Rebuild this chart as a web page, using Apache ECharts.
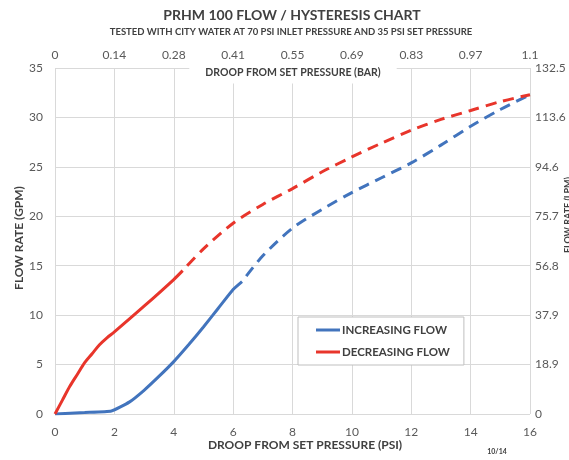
<!DOCTYPE html>
<html>
<head>
<meta charset="utf-8">
<script src="https://cdn.jsdelivr.net/npm/echarts@6/dist/echarts.min.js"></script>
<style>
html,body{margin:0;padding:0;background:#fff;}
#c{width:569px;height:460px;}
</style>
</head>
<body>
<div id="c"></div>
<script>
// ---- data ----
const BAR_LABELS = ['0', '0.14', '0.28', '0.41', '0.55', '0.69', '0.83', '0.97', '1.1'];
const LPM_LABELS = ['0', '18.9', '37.9', '56.8', '75.7', '94.6', '113.6', '132.5'];

const INC_SOLID_X = [0, 1, 1.9, 2.5, 3, 3.5, 4, 4.5, 5, 5.5, 6, 6.3];
const INC_SOLID_Y = [0, 0.15, 0.3, 1.2, 2.4, 3.8, 5.3, 7.0, 8.8, 10.7, 12.6, 13.4];
const INC_DASH_X = [6.3, 7, 8, 9, 10, 11, 12, 13, 14, 15, 16];
const INC_DASH_Y = [13.4, 16.0, 18.8, 20.7, 22.4, 23.9, 25.4, 27.2, 29.1, 30.8, 32.3];

const DEC_SOLID_X = [0, 0.25, 0.5, 0.75, 1, 1.25, 1.5, 1.75, 2, 3, 4, 4.3];
const DEC_SOLID_Y = [0, 1.4, 2.8, 4.0, 5.2, 6.1, 7.0, 7.7, 8.3, 10.9, 13.6, 14.5];
const DEC_DASH_X = [4.3, 5, 6, 7, 8, 9, 10, 11, 12, 13, 14, 15, 16];
const DEC_DASH_Y = [14.5, 16.7, 19.3, 21.2, 22.8, 24.5, 26.0, 27.4, 28.7, 29.8, 30.7, 31.6, 32.3];

const NAME_INC = 'INCREASING FLOW';
const NAME_DEC = 'DECREASING FLOW';

const pairs = (xs, ys) => xs.map((x, i) => [x, ys[i]]);

const BLUE = '#4274bd';
const RED = '#e8352b';
const GRID = '#d9d9d9';
const LABEL = '#595959';
const DARK = '#404040';
const FONT = 'Lato, "Open Sans", sans-serif';

const chart = echarts.init(document.getElementById('c'));
chart.setOption({
  animation: false,
  backgroundColor: '#fff',
  textStyle: { fontFamily: FONT },
  grid: { left: 55, right: 39, top: 68, bottom: 46 },
  legend: {
    data: [NAME_INC, NAME_DEC],
    orient: 'vertical',
    left: 298, top: 317,
    icon: 'rect',
    itemWidth: 24, itemHeight: 3, itemGap: 10,
    padding: [7, 14, 7, 18],
    borderColor: '#bfbfbf', borderWidth: 1,
    backgroundColor: '#fff',
    textStyle: { fontFamily: FONT, fontSize: 11.5, fontWeight: 'bold', color: DARK, padding: [0, 0, 0, -3] }
  },
  xAxis: [
    {
      type: 'value', position: 'bottom', min: 0, max: 16, interval: 2,
      axisLine: { show: false }, axisTick: { show: false },
      axisLabel: { margin: 12, fontSize: 12, color: LABEL, fontFamily: FONT },
      splitLine: { show: true, lineStyle: { color: GRID, width: 1 } }
    },
    {
      type: 'value', position: 'top', min: 0, max: 16, interval: 2,
      axisLine: { show: false }, axisTick: { show: false },
      axisLabel: { margin: 7, fontSize: 12, color: LABEL, fontFamily: FONT,
        formatter: v => BAR_LABELS[Math.round(v / 2)] },
      splitLine: { show: false }
    }
  ],
  yAxis: [
    {
      type: 'value', position: 'left', min: 0, max: 35, interval: 5,
      axisLine: { show: false }, axisTick: { show: false },
      axisLabel: { margin: 12, fontSize: 12, color: LABEL, fontFamily: FONT },
      splitLine: { show: true, lineStyle: { color: GRID, width: 1 } }
    },
    {
      type: 'value', position: 'right', min: 0, max: 35, interval: 5,
      axisLine: { show: false }, axisTick: { show: false },
      axisLabel: { margin: 5, fontSize: 12, color: LABEL, fontFamily: FONT,
        formatter: v => LPM_LABELS[Math.round(v / 5)] },
      splitLine: { show: false }
    }
  ],
  series: [
    { name: NAME_INC, type: 'line', data: pairs(INC_SOLID_X, INC_SOLID_Y), showSymbol: false, symbol: 'none',
      smooth: 0.15,
      lineStyle: { color: BLUE, width: 3 }, itemStyle: { color: BLUE }, z: 3 },
    { name: NAME_INC, type: 'line', data: pairs(INC_DASH_X, INC_DASH_Y), showSymbol: false, symbol: 'none',
      smooth: 0.3,
      lineStyle: { color: BLUE, width: 3, type: [11, 7], dashOffset: 11 }, itemStyle: { color: BLUE }, z: 3 },
    { name: NAME_DEC, type: 'line', data: pairs(DEC_SOLID_X, DEC_SOLID_Y), showSymbol: false, symbol: 'none',
      smooth: 0.3,
      lineStyle: { color: RED, width: 3 }, itemStyle: { color: RED }, z: 4 },
    { name: NAME_DEC, type: 'line', data: pairs(DEC_DASH_X, DEC_DASH_Y), showSymbol: false, symbol: 'none',
      smooth: 0.3,
      lineStyle: { color: RED, width: 3, type: [11, 7], dashOffset: 11 }, itemStyle: { color: RED }, z: 4 }
  ],
  graphic: [
    { type: 'text', x: 292, y: 15, z: 100,
      style: { text: 'PRHM 100 FLOW / HYSTERESIS CHART', align: 'center', verticalAlign: 'middle',
        font: 'bold 14px ' + FONT, fill: DARK } },
    { type: 'text', x: 291, y: 32, z: 100,
      style: { text: 'TESTED WITH CITY WATER AT 70 PSI INLET PRESSURE AND 35 PSI SET PRESSURE', align: 'center', verticalAlign: 'middle',
        font: 'bold 9.5px ' + FONT, fill: DARK } },
    { type: 'text', x: 293, y: 73, z: 100,
      style: { text: 'DROOP FROM SET PRESSURE (BAR)', align: 'center', verticalAlign: 'middle',
        font: 'bold 10.5px ' + FONT, fill: DARK, backgroundColor: '#fff', padding: [5, 16, 5, 16] } },
    { type: 'text', x: 305, y: 445, z: 100,
      style: { text: 'DROOP FROM SET PRESSURE (PSI)', align: 'center', verticalAlign: 'middle',
        font: 'bold 12px ' + FONT, fill: DARK } },
    { type: 'text', x: 19, y: 238, rotation: Math.PI / 2, z: 100,
      style: { text: 'FLOW RATE (GPM)', align: 'center', verticalAlign: 'middle',
        font: 'bold 12px ' + FONT, fill: DARK } },
    { type: 'text', x: 568, y: 215, rotation: Math.PI / 2, z: 100,
      style: { text: 'FLOW RATE (LPM)', align: 'center', verticalAlign: 'middle',
        font: 'bold 9px ' + FONT, fill: DARK } },
    { type: 'text', x: 497, y: 452, z: 100,
      style: { text: '10/14', align: 'center', verticalAlign: 'middle',
        font: 'bold 7px ' + FONT, fill: DARK } }
  ]
});
</script>
</body>
</html>
